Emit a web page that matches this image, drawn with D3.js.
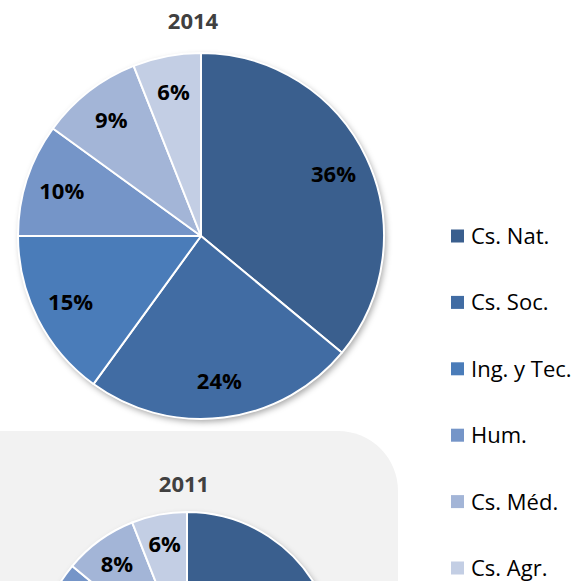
<!DOCTYPE html>
<html>
<head>
<meta charset="utf-8">
<script src="https://cdn.jsdelivr.net/npm/d3@7"></script>
<style>
  html, body { margin: 0; padding: 0; background: #fff; }
  svg { display: block; }
</style>
</head>
<body>
<div id="chart"></div>
<script>
// categorías y valores (%) por año
const categories = ["Cs. Nat.", "Cs. Soc.", "Ing. y Tec.", "Hum.", "Cs. Méd.", "Cs. Agr."];
const values2014 = [36, 24, 15, 10, 9, 6];
const values2011 = [37, 23, 16, 10, 8, 6];
const years = ["2014", "2011"];
const palette = ["#3A5F8E", "#416CA3", "#4A7CB9", "#7595C8", "#A3B5D7", "#C3CEE4"];

const width = 578, height = 581;

const svg = d3.select("#chart").append("svg")
    .attr("width", width).attr("height", height);

// sombra suave de las tartas
const defs = svg.append("defs");
const filter = defs.append("filter").attr("id", "shadow")
    .attr("x", "-10%").attr("y", "-10%").attr("width", "130%").attr("height", "130%");
filter.append("feDropShadow")
    .attr("dx", 2).attr("dy", 3).attr("stdDeviation", 3)
    .attr("flood-color", "#000").attr("flood-opacity", 0.35);

// panel gris del segundo gráfico
svg.append("rect")
    .attr("x", -80).attr("y", 431)
    .attr("width", 478).attr("height", 300)
    .attr("rx", 60).attr("ry", 60)
    .attr("fill", "#F2F2F2");

const color = d3.scaleOrdinal().domain(categories).range(palette);
const pie = d3.pie().sort(null).value(d => d.value);

function drawPie(values, title, cx, cy, r, titleX, titleY) {
    const data = categories.map((c, i) => ({ cat: c, value: values[i] }));
    const arcs = pie(data);
    const arc = d3.arc().innerRadius(0).outerRadius(r);
    const labelArc = d3.arc().innerRadius(r * 0.8).outerRadius(r * 0.8);

    svg.append("text")
        .attr("x", titleX).attr("y", titleY)
        .attr("text-anchor", "middle")
        .style("font-family", "'Open Sans', sans-serif")
        .style("font-weight", "bold")
        .style("font-size", "22px")
        .style("fill", "#404040")
        .text(title);

    const g = svg.append("g").attr("transform", `translate(${cx},${cy})`);

    g.append("circle").attr("r", r)
        .attr("fill", "#fff")
        .attr("filter", "url(#shadow)");

    g.selectAll("path.slice").data(arcs).join("path")
        .attr("class", "slice")
        .attr("d", arc)
        .attr("fill", d => color(d.data.cat))
        .attr("stroke", "#fff")
        .attr("stroke-width", 2)
        .attr("stroke-linejoin", "round");

    // solo las etiquetas que caen dentro del área visible
    const visible = arcs.filter(d => cy + labelArc.centroid(d)[1] + 12 < height);
    g.selectAll("text.lbl").data(visible).join("text")
        .attr("class", "lbl")
        .attr("transform", d => `translate(${labelArc.centroid(d)})`)
        .attr("text-anchor", "middle")
        .attr("dy", "0.36em")
        .style("font-family", "'Open Sans', sans-serif")
        .style("font-weight", "bold")
        .style("font-size", "22px")
        .style("fill", "#000")
        .text(d => d.data.value + "%");
}

drawPie(values2014, years[0], 201, 236, 183, 193, 29);
drawPie(values2011, years[1], 187, 661, 149, 184, 492);

// leyenda
const legendY = d3.scalePoint().domain(categories).range([236, 568]);
const legend = svg.append("g");
const item = legend.selectAll("g").data(categories).join("g")
    .attr("transform", d => `translate(451,${legendY(d)})`);
item.append("rect")
    .attr("x", 0).attr("y", -6.5)
    .attr("width", 13).attr("height", 13)
    .attr("fill", d => color(d));
item.append("text")
    .attr("x", 20).attr("dy", "0.36em")
    .style("font-family", "'Open Sans', sans-serif")
    .style("font-size", "22px")
    .style("fill", "#000")
    .text(d => d);
</script>
</body>
</html>
